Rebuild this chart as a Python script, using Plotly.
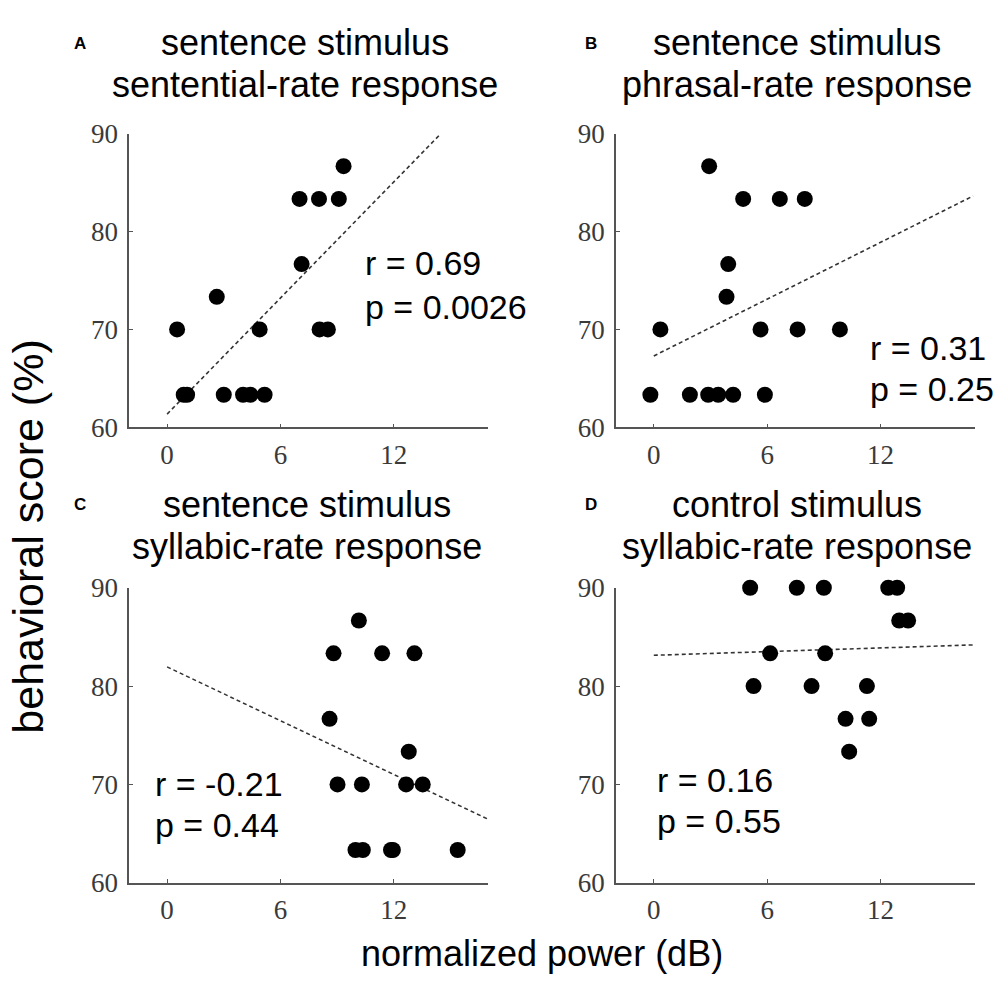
import plotly.graph_objects as go

# ---------------- data ----------------
a_x = [9.34, 7.01, 8.04, 9.09, 7.12, 2.63, 0.53, 4.90, 8.07, 8.51, 0.88, 1.06, 3.00, 4.02, 4.41, 5.16]
a_y = [86.67, 83.33, 83.33, 83.33, 76.67, 73.33, 70, 70, 70, 70, 63.33, 63.33, 63.33, 63.33, 63.33, 63.33]
a_fit_x = [0, 14.41]
a_fit_y = [61.35, 89.83]

b_x = [2.93, 4.73, 6.67, 7.99, 3.94, 3.85, 0.35, 5.65, 7.61, 9.85, -0.18, 1.91, 2.88, 3.41, 4.20, 5.88]
b_y = [86.67, 83.33, 83.33, 83.33, 76.67, 73.33, 70, 70, 70, 70, 63.33, 63.33, 63.33, 63.33, 63.33, 63.33]
b_fit_x = [0, 16.9]
b_fit_y = [67.29, 83.63]

c_x = [10.15, 8.81, 11.38, 13.09, 8.60, 12.79, 9.02, 10.31, 12.65, 13.53, 9.97, 10.36, 11.85, 11.95, 15.38]
c_y = [86.67, 83.33, 83.33, 83.33, 76.67, 73.33, 70, 70, 70, 70, 63.33, 63.33, 63.33, 63.33, 63.33]
c_fit_x = [0, 17.06]
c_fit_y = [81.95, 66.4]

d_x = [5.10, 7.57, 9.00, 12.41, 12.88, 12.99, 13.46, 6.16, 9.07, 5.28, 8.35, 11.28, 10.15, 11.40, 10.34]
d_y = [90, 90, 90, 90, 90, 86.67, 86.67, 83.33, 83.33, 80, 80, 80, 76.67, 76.67, 73.33]
d_fit_x = [0, 16.99]
d_fit_y = [83.13, 84.19]

panel_letters = ["A", "B", "C", "D"]
title_line1 = ["sentence stimulus", "sentence stimulus", "sentence stimulus", "control stimulus"]
title_line2 = ["sentential-rate response", "phrasal-rate response", "syllabic-rate response", "syllabic-rate response"]
r_texts = ["r = 0.69", "r = 0.31", "r = -0.21", "r = 0.16"]
p_texts = ["p = 0.0026", "p = 0.25", "p = 0.44", "p = 0.55"]

x_ticks = [0, 6, 12]
y_ticks = [60, 70, 80, 90]
x_range = [-2, 17]
y_range = [60, 90]
x_title = "normalized power (dB)"
y_title = "behavioral score (%)"

# ---------------- figure ----------------
W, H = 999, 986
fig = go.Figure()

panels = [
    (a_x, a_y, a_fit_x, a_fit_y),
    (b_x, b_y, b_fit_x, b_fit_y),
    (c_x, c_y, c_fit_x, c_fit_y),
    (d_x, d_y, d_fit_x, d_fit_y),
]

# pixel boxes of plotting areas (left, right, top, bottom)
boxes = [
    (129.3, 488.3, 122.3, 425.3),
    (616.0, 975.0, 122.3, 425.3),
    (129.3, 488.3, 590.7, 895.0),
    (616.0, 975.0, 590.7, 895.0),
]

axis_font = dict(family="Liberation Serif, Times New Roman, serif", size=27, color="#3a3a3a")
sans = "Liberation Sans, Arial, Helvetica, sans-serif"

for i, ((px, py, fx, fy), (l, r, t, b)) in enumerate(zip(panels, boxes)):
    n = i + 1
    xa = "x" if n == 1 else f"x{n}"
    ya = "y" if n == 1 else f"y{n}"
    fig.add_trace(go.Scatter(x=fx, y=fy, mode="lines",
                             line=dict(color="#333333", width=1.6, dash="4px,3px"),
                             xaxis=xa, yaxis=ya, showlegend=False, hoverinfo="skip",
                             cliponaxis=False))
    fig.add_trace(go.Scatter(x=px, y=py, mode="markers",
                             marker=dict(color="black", size=16, line=dict(width=0)),
                             xaxis=xa, yaxis=ya, showlegend=False, cliponaxis=False))
    axcommon = dict(showline=True, linecolor="#555555", linewidth=1.6,
                    ticks="inside", ticklen=4, tickwidth=1.2, tickcolor="#555555",
                    showgrid=False, zeroline=False, tickfont=axis_font)
    fig.update_layout(**{
        ("xaxis" if n == 1 else f"xaxis{n}"): dict(
            domain=[l / W, r / W], range=x_range, tickvals=x_ticks,
            anchor=ya, ticklabelstandoff=2, **axcommon),
        ("yaxis" if n == 1 else f"yaxis{n}"): dict(
            domain=[1 - b / H, 1 - t / H], range=y_range, tickvals=y_ticks,
            anchor=xa, ticklabelstandoff=4, **axcommon),
    })

annotations = []
# titles and panel letters
title_pos = [(305, 28, 72), (797, 28, 72), (307, 505, 548), (797, 505, 548)]
letter_pos = [(80, 29), (591, 29), (80, 505), (591, 505)]
for i in range(4):
    cx, y1, y2 = title_pos[i]
    annotations.append(dict(text=title_line1[i], x=cx / W, y=1 - y1 / H, xref="paper", yref="paper",
                            xanchor="center", yanchor="middle", showarrow=False,
                            font=dict(family=sans, size=36, color="black")))
    annotations.append(dict(text=title_line2[i], x=cx / W, y=1 - y2 / H, xref="paper", yref="paper",
                            xanchor="center", yanchor="middle", showarrow=False,
                            font=dict(family=sans, size=36, color="black")))
    lx, ly = letter_pos[i]
    annotations.append(dict(text="<b>" + panel_letters[i] + "</b>", x=lx / W, y=1 - ly / H,
                            xref="paper", yref="paper", xanchor="center", yanchor="middle",
                            showarrow=False, font=dict(family=sans, size=17, color="black")))

# stats text
stat_pos = [(363, 256, 301), (868, 343, 386), (153, 793, 835), (655, 789, 831)]
for i in range(4):
    sx, ry, py_ = stat_pos[i]
    annotations.append(dict(text=r_texts[i], x=sx / W, y=1 - ry / H, xref="paper", yref="paper",
                            xanchor="left", yanchor="middle", showarrow=False,
                            font=dict(family=sans, size=34, color="black")))
    annotations.append(dict(text=p_texts[i], x=sx / W, y=1 - py_ / H, xref="paper", yref="paper",
                            xanchor="left", yanchor="middle", showarrow=False,
                            font=dict(family=sans, size=34, color="black")))

# shared axis titles
annotations.append(dict(text=x_title, x=542 / W, y=1 - 968 / H, xref="paper", yref="paper",
                        xanchor="center", yanchor="middle", showarrow=False,
                        font=dict(family=sans, size=36, color="black")))
annotations.append(dict(text=y_title, x=28 / W, y=1 - 538 / H, xref="paper", yref="paper",
                        xanchor="center", yanchor="middle", showarrow=False, textangle=-90,
                        font=dict(family=sans, size=43, color="black")))

fig.update_layout(width=W, height=H, margin=dict(l=0, r=0, t=0, b=0),
                  paper_bgcolor="white", plot_bgcolor="white",
                  annotations=annotations, showlegend=False)

fig.write_html("out.html")
